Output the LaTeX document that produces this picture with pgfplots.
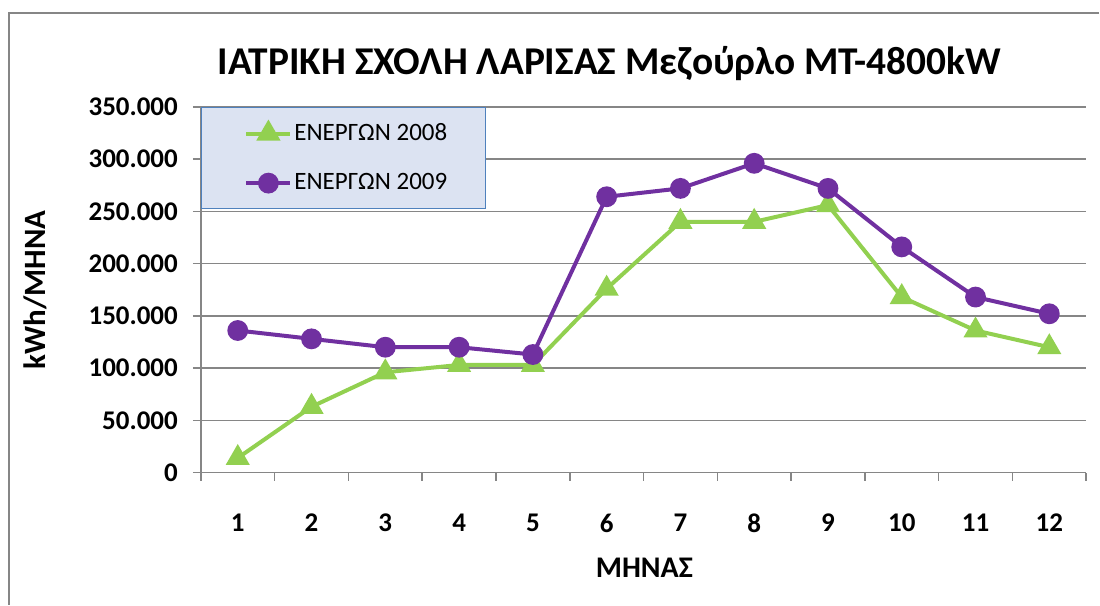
\documentclass[border=0pt]{standalone}
\usepackage{pgfplots}
\pgfplotsset{compat=1.18}
\usepackage{fontspec}
\setmainfont{Carlito}
\definecolor{grn}{HTML}{92D050}
\definecolor{prp}{HTML}{7030A0}
\definecolor{gridg}{HTML}{868686}
\definecolor{legfill}{HTML}{DCE3F2}
\definecolor{legdraw}{HTML}{4F81BD}
\begin{document}
\begin{tikzpicture}
\begin{axis}[
  scale only axis,
  width=443pt, height=183pt,
  xmin=0.5, xmax=12.5,
  ymin=0, ymax=350000,
  xtick={1,2,3,4,5,6,7,8,9,10,11,12},
  xticklabels={1,2,3,4,5,6,7,8,9,10,11,12},
  minor xtick={0.5,1.5,2.5,3.5,4.5,5.5,6.5,7.5,8.5,9.5,10.5,11.5,12.5},
  ytick={0,50000,100000,150000,200000,250000,300000,350000},
  yticklabels={0,50.000,100.000,150.000,200.000,250.000,300.000,350.000},
  scaled y ticks=false,
  ticklabel style={font=\fontsize{13.5}{15}\selectfont\bfseries},
  xticklabel style={yshift=-13pt},
  yticklabel style={xshift=-4pt},
  axis x line*=bottom,
  axis y line*=left,
  axis line style={gridg, line width=0.8pt},
  major x tick style={draw=none},
  minor x tick style={gridg, line width=0.8pt},
  ytick style={gridg, line width=0.8pt},
  tick align=outside,
  major tick length=4pt,
  minor tick length=4pt,
  ymajorgrids,
  grid style={gridg, line width=0.8pt},
  clip=false,
  legend cell align=left,
  legend style={at={(0,1)}, anchor=north west, fill=legfill, draw=legdraw, line width=0.6pt,
    inner xsep=18pt, inner ysep=6pt, row sep=11pt,
    nodes={inner xsep=1pt},
    font=\fontsize{12.5}{14}\selectfont},
  legend image code/.code={\path (0pt,0pt); \draw[mark repeat=2,mark phase=2,#1] plot coordinates {(3.5pt,0pt)(14.5pt,0pt)(25.5pt,0pt)};},
]
\addplot[color=grn, line width=2pt, mark=triangle*, mark size=5pt, mark options={solid}]
 coordinates {(1,14000)(2,63000)(3,96000)(4,103000)(5,103000)(6,176000)(7,240000)(8,240000)(9,256000)(10,168000)(11,136000)(12,120000)};
\addlegendentry{ΕΝΕΡΓΩΝ 2008}
\addplot[color=prp, line width=2pt, mark=*, mark size=4.2pt, mark options={solid}]
 coordinates {(1,136000)(2,128000)(3,120000)(4,120000)(5,113000)(6,264000)(7,272000)(8,296000)(9,272000)(10,216000)(11,168000)(12,152000)};
\addlegendentry{ΕΝΕΡΓΩΝ 2009}
\node[font=\fontsize{19.7}{22}\selectfont\bfseries] at (rel axis cs:0.4616,1.1175) {ΙΑΤΡΙΚΗ ΣΧΟΛΗ ΛΑΡΙΣΑΣ Μεζούρλο ΜΤ-4800kW};
\node[font=\fontsize{15.5}{17}\selectfont\bfseries, rotate=90] at (rel axis cs:-0.1874,0.5) {kWh/ΜΗΝΑ};
\node[font=\fontsize{15}{17}\selectfont\bfseries] at (rel axis cs:0.501,-0.2596) {ΜΗΝΑΣ};
\draw[gridg, line width=0.8pt] (rel axis cs:1.0147,1.2568) -- (rel axis cs:-0.2167,1.2568) -- (rel axis cs:-0.2167,-0.3607);
\path[use as bounding box] (rel axis cs:-0.2269,-0.3607) rectangle (rel axis cs:1.0147,1.2923);
\end{axis}
\end{tikzpicture}
\end{document}
